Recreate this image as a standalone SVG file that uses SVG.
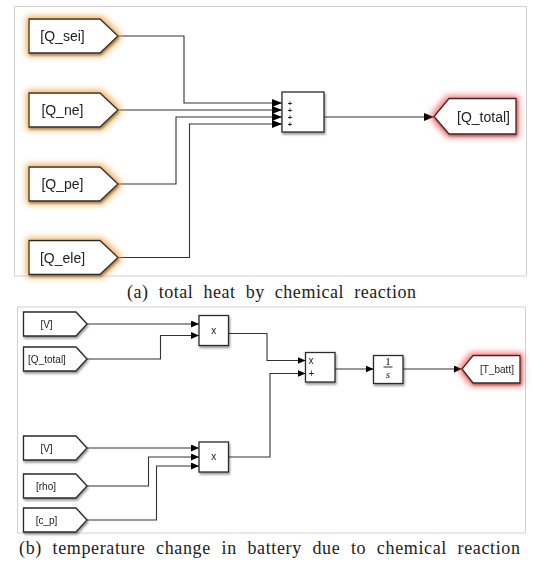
<svg xmlns="http://www.w3.org/2000/svg" width="533" height="566" viewBox="0 0 533 566">
<style>
.frame{fill:#fff;stroke:#d2d2d2;stroke-width:1}
.blk{fill:#fff;stroke:#2a2a2a;stroke-width:1.3}
.conn{fill:none;stroke:#333;stroke-width:1.1}
.lbl{font-family:"Liberation Sans",Arial,sans-serif;fill:#222}
.big{font-size:14px}
.small{font-size:10px}
.plus{font-size:7.5px;font-weight:bold}
.cap{font-family:"Liberation Serif","Times New Roman",serif;font-size:18px;fill:#222}
.math{font-family:"Liberation Serif","Times New Roman",serif;fill:#111}
</style>
<defs>
<filter id="glowO" x="-30%" y="-60%" width="160%" height="220%">
<feMorphology in="SourceAlpha" operator="dilate" radius="1.5" result="d"/>
<feGaussianBlur in="d" stdDeviation="3" result="b"/>
<feFlood flood-color="#f0a040" flood-opacity="0.85"/>
<feComposite in2="b" operator="in" result="g"/>
<feOffset in="SourceAlpha" dx="1" dy="1.5" result="so"/>
<feGaussianBlur in="so" stdDeviation="0.8" result="sb"/>
<feFlood flood-color="#000" flood-opacity="0.5"/>
<feComposite in2="sb" operator="in" result="s"/>
<feMerge><feMergeNode in="g"/><feMergeNode in="s"/><feMergeNode in="SourceGraphic"/></feMerge>
</filter>
<filter id="glowR" x="-30%" y="-60%" width="160%" height="220%">
<feMorphology in="SourceAlpha" operator="dilate" radius="1.5" result="d"/>
<feGaussianBlur in="d" stdDeviation="3" result="b"/>
<feFlood flood-color="#ff4a4a" flood-opacity="0.8"/>
<feComposite in2="b" operator="in" result="g"/>
<feOffset in="SourceAlpha" dx="1" dy="1.5" result="so"/>
<feGaussianBlur in="so" stdDeviation="0.8" result="sb"/>
<feFlood flood-color="#000" flood-opacity="0.45"/>
<feComposite in2="sb" operator="in" result="s"/>
<feMerge><feMergeNode in="g"/><feMergeNode in="s"/><feMergeNode in="SourceGraphic"/></feMerge>
</filter>
<filter id="shadow" x="-20%" y="-20%" width="150%" height="150%">
<feOffset in="SourceAlpha" dx="1" dy="1.5" result="so"/>
<feGaussianBlur in="so" stdDeviation="0.8" result="sb"/>
<feFlood flood-color="#000" flood-opacity="0.4"/>
<feComposite in2="sb" operator="in" result="s"/>
<feMerge><feMergeNode in="s"/><feMergeNode in="SourceGraphic"/></feMerge>
</filter>
<marker id="arrL" markerUnits="userSpaceOnUse" markerWidth="11" markerHeight="9" refX="10" refY="4" orient="auto">
<path d="M0,0 L10,4 L0,8 z" fill="#000"/>
</marker>
<marker id="arrS" markerUnits="userSpaceOnUse" markerWidth="9" markerHeight="8" refX="8" refY="3.5" orient="auto">
<path d="M0,0 L8,3.5 L0,7 z" fill="#000"/>
</marker>
</defs>
<rect width="533" height="566" fill="#fff"/>
<rect class="frame" x="14.5" y="6.5" width="512" height="269.5"/>
<rect class="frame" x="17.5" y="307" width="508" height="226"/>

<g id="connectors">
<path class="conn" d="M118,36 H184 V103 H282" marker-end="url(#arrL)"/>
<path class="conn" d="M118,110 H282" marker-end="url(#arrL)"/>
<path class="conn" d="M118,184 H176 V117 H282" marker-end="url(#arrL)"/>
<path class="conn" d="M118,257.5 H189.5 V124 H282" marker-end="url(#arrL)"/>
<path class="conn" d="M324,117 H434" marker-end="url(#arrL)"/>
<path class="conn" d="M87,324 H199" marker-end="url(#arrS)"/>
<path class="conn" d="M87,359 H160.5 V335.5 H199" marker-end="url(#arrS)"/>
<path class="conn" d="M228.5,333.5 H267 V360.5 H305.5" marker-end="url(#arrS)"/>
<path class="conn" d="M87,448 H199" marker-end="url(#arrS)"/>
<path class="conn" d="M87,486 H148.5 V457 H199" marker-end="url(#arrS)"/>
<path class="conn" d="M87,520 H156.5 V466 H199" marker-end="url(#arrS)"/>
<path class="conn" d="M228.5,457 H270 V373.5 H305.5" marker-end="url(#arrS)"/>
<path class="conn" d="M335,369 H373.5" marker-end="url(#arrS)"/>
<path class="conn" d="M403,369 H462" marker-end="url(#arrS)"/>
</g>

<g id="from_Q_sei" filter="url(#glowO)">
<polygon class="blk" points="29,19 100,19 118,36 100,53 29,53"/>
<text class="lbl big" x="62.5" y="41" text-anchor="middle">[Q_sei]</text>
</g>
<g id="from_Q_ne" filter="url(#glowO)">
<polygon class="blk" points="29,93 100,93 118,110 100,127 29,127"/>
<text class="lbl big" x="62.5" y="115" text-anchor="middle">[Q_ne]</text>
</g>
<g id="from_Q_pe" filter="url(#glowO)">
<polygon class="blk" points="29,167 100,167 118,184 100,201 29,201"/>
<text class="lbl big" x="62.5" y="189" text-anchor="middle">[Q_pe]</text>
</g>
<g id="from_Q_ele" filter="url(#glowO)">
<polygon class="blk" points="29,240.5 100,240.5 118,257.5 100,274.5 29,274.5"/>
<text class="lbl big" x="62.5" y="262.5" text-anchor="middle">[Q_ele]</text>
</g>
<g id="sum" filter="url(#shadow)">
<rect class="blk" x="282" y="92" width="42" height="40"/>
<text class="lbl plus" x="290" y="105.8" text-anchor="middle">+</text>
<text class="lbl plus" x="290" y="112.8" text-anchor="middle">+</text>
<text class="lbl plus" x="290" y="119.8" text-anchor="middle">+</text>
<text class="lbl plus" x="290" y="126.8" text-anchor="middle">+</text>
</g>
<g id="goto_Q_total" filter="url(#glowR)">
<polygon class="blk" points="434,116.5 449,98.5 516,98.5 516,134 449,134"/>
<text class="lbl big" x="483.5" y="121.5" text-anchor="middle">[Q_total]</text>
</g>

<g id="from_V1" filter="url(#shadow)">
<polygon class="blk" points="23.5,312 76,312 87,324 76,336 23.5,336"/>
<text class="lbl small" x="46.5" y="327.5" text-anchor="middle">[V]</text>
</g>
<g id="from_Q_total" filter="url(#shadow)">
<polygon class="blk" points="23.5,347 76,347 87,359 76,371 23.5,371"/>
<text class="lbl small" x="47" y="362.5" text-anchor="middle">[Q_total]</text>
</g>
<g id="from_V2" filter="url(#shadow)">
<polygon class="blk" points="23.5,436 76,436 87,448 76,460 23.5,460"/>
<text class="lbl small" x="46.5" y="451.5" text-anchor="middle">[V]</text>
</g>
<g id="from_rho" filter="url(#shadow)">
<polygon class="blk" points="23.5,474 76,474 87,486 76,498 23.5,498"/>
<text class="lbl small" x="46" y="489.5" text-anchor="middle">[rho]</text>
</g>
<g id="from_c_p" filter="url(#shadow)">
<polygon class="blk" points="23.5,508 76,508 87,520 76,532 23.5,532"/>
<text class="lbl small" x="46.5" y="523.5" text-anchor="middle">[c_p]</text>
</g>
<g id="product1" filter="url(#shadow)">
<rect class="blk" x="199" y="315.5" width="29.5" height="30"/>
<text class="lbl small" x="213.8" y="333.5" text-anchor="middle">x</text>
</g>
<g id="product2" filter="url(#shadow)">
<rect class="blk" x="199" y="442" width="29.5" height="30"/>
<text class="lbl small" x="213.8" y="460" text-anchor="middle">x</text>
</g>
<g id="product3" filter="url(#shadow)">
<rect class="blk" x="305.5" y="352.5" width="29.5" height="29.5"/>
<text class="lbl small" x="308.5" y="363.5">x</text>
<text class="lbl small" x="308.5" y="377">+</text>
</g>
<g id="integrator" filter="url(#shadow)">
<rect class="blk" x="373.5" y="355.5" width="29.5" height="28"/>
<text class="math" font-size="11" x="388" y="365" text-anchor="middle">1</text>
<line x1="383.5" y1="367" x2="392.5" y2="367" stroke="#111" stroke-width="0.9"/>
<text class="math" font-size="11" font-style="italic" x="388" y="377.5" text-anchor="middle">s</text>
</g>
<g id="goto_T_batt" filter="url(#glowR)">
<polygon class="blk" points="462,369 473,355.5 520,355.5 520,383 473,383"/>
<text class="lbl small" x="497" y="372.5" text-anchor="middle">[T_batt]</text>
</g>

<text class="cap" x="127" y="297.5" word-spacing="5" textLength="289" lengthAdjust="spacing">(a) total heat by chemical reaction</text>
<text class="cap" x="19" y="553.5" word-spacing="5.5" textLength="501" lengthAdjust="spacing">(b) temperature change in battery due to chemical reaction</text>
</svg>
